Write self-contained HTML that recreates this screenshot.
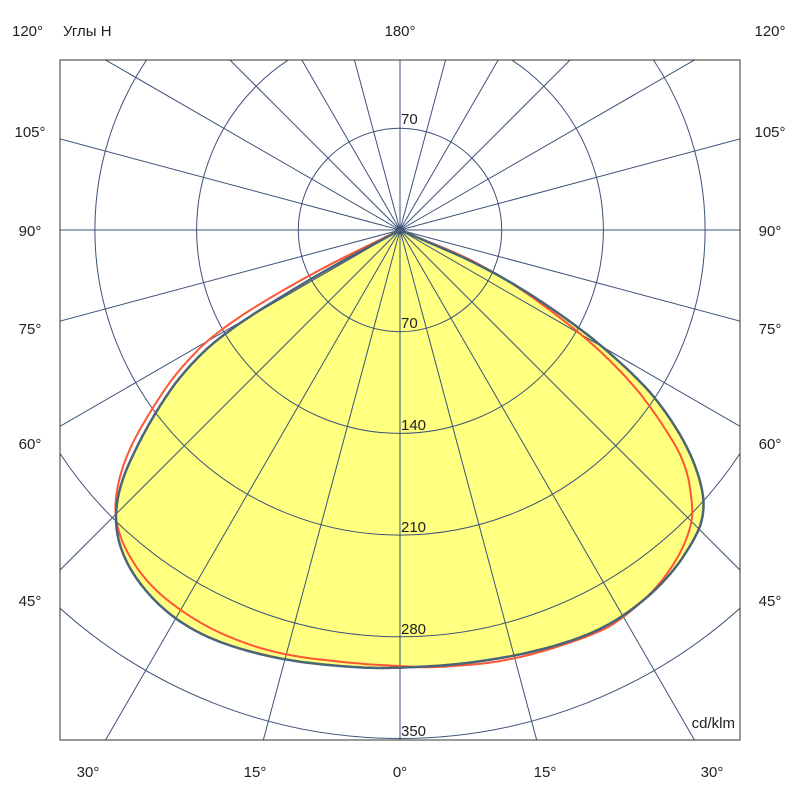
<!DOCTYPE html>
<html><head><meta charset="utf-8"><style>
html,body{margin:0;padding:0;background:#fff;width:800px;height:800px;overflow:hidden;}
svg{display:block;position:absolute;left:0;top:0;}
text{font-family:"Liberation Sans",sans-serif;font-size:15px;fill:#222;}
</style></head><body>
<svg id="s" width="800" height="800" viewBox="0 0 800 800" xmlns="http://www.w3.org/2000/svg">
<defs><clipPath id="c"><rect x="60" y="60" width="680" height="680"/></clipPath></defs>
<g clip-path="url(#c)">
<path id="fill" fill="#ffff80" stroke="none"/>
<g id="grid" stroke="#3d5278" stroke-width="1" fill="none"></g>
<path id="red" fill="none" stroke="#ff5533" stroke-width="2"/>
<path id="blue" fill="none" stroke="#4a6478" stroke-width="2.5"/>
</g>
<rect x="60" y="60" width="680" height="680" fill="none" stroke="#333" stroke-width="1"/>
<text x="12" y="36">120°</text>
<text x="63" y="36">Углы H</text>
<text x="400" y="36" text-anchor="middle">180°</text>
<text x="770" y="36" text-anchor="middle">120°</text>
<g text-anchor="middle">
<text x="30" y="137">105°</text><text x="770" y="137">105°</text>
<text x="30" y="236">90°</text><text x="770" y="236">90°</text>
<text x="30" y="334">75°</text><text x="770" y="334">75°</text>
<text x="30" y="449">60°</text><text x="770" y="449">60°</text>
<text x="30" y="606">45°</text><text x="770" y="606">45°</text>
<text x="88" y="777">30°</text><text x="255" y="777">15°</text><text x="400" y="777">0°</text><text x="545" y="777">15°</text><text x="712" y="777">30°</text>
</g>
<g>
<text x="401" y="124">70</text>
<text x="401" y="328">70</text>
<text x="401" y="430">140</text>
<text x="401" y="532">210</text>
<text x="401" y="634">280</text>
<text x="401" y="736">350</text>
</g>
<text x="735" y="728" text-anchor="end">cd/klm</text>
</svg>
<script>
var g=document.getElementById('grid'),h='';
for(var k=1;k<=5;k++){h+='<circle cx="400" cy="230" r="'+(101.7*k)+'"/>';}
for(var a=0;a<360;a+=15){var t=a*Math.PI/180;h+='<line x1="400" y1="230" x2="'+(400+1200*Math.sin(t))+'" y2="'+(230+1200*Math.cos(t))+'"/>';}
g.innerHTML=h;
function ch(p,n){for(var it=0;it<n;it++){var q=[p[0]];for(var i=0;i<p.length-1;i++){var a=p[i],b=p[i+1];
q.push([0.75*a[0]+0.25*b[0],0.75*a[1]+0.25*b[1]]);q.push([0.25*a[0]+0.75*b[0],0.25*a[1]+0.75*b[1]]);}q.push(p[p.length-1]);p=q;}
return 'M'+p.map(function(v){return v[0].toFixed(1)+','+v[1].toFixed(1);}).join(' L');}
var blue=[[400,230],[313,277],[223,333],[182,373],[155,413],[135,450],[121,482],[115,513],[118,542],[131,572],[155,602],[185,626],[225,645],[287,661],[360,668],[400,668],[467,664],[540,651],[600,631],[643,602],[673,572],[693,542],[703,520],[704,493],[691,453],[667,413],[640,380],[580,327],[493,270],[400,230]];
var red=[[400,230],[310,274],[220,328],[178,370],[149,413],[127,453],[116,490],[115,520],[125,550],[148,584],[182,612],[222,635],[280,655],[360,664],[400,666],[433,668],[513,661],[600,633],[628,614],[657,588],[680,555],[691,527],[693,507],[686,463],[660,420],[630,380],[578,330],[490,267],[400,230]];
var b=ch(blue,4);
document.getElementById('blue').setAttribute('d',b);
document.getElementById('fill').setAttribute('d',b+'Z');
document.getElementById('red').setAttribute('d',ch(red,4));
</script>
</body></html>
